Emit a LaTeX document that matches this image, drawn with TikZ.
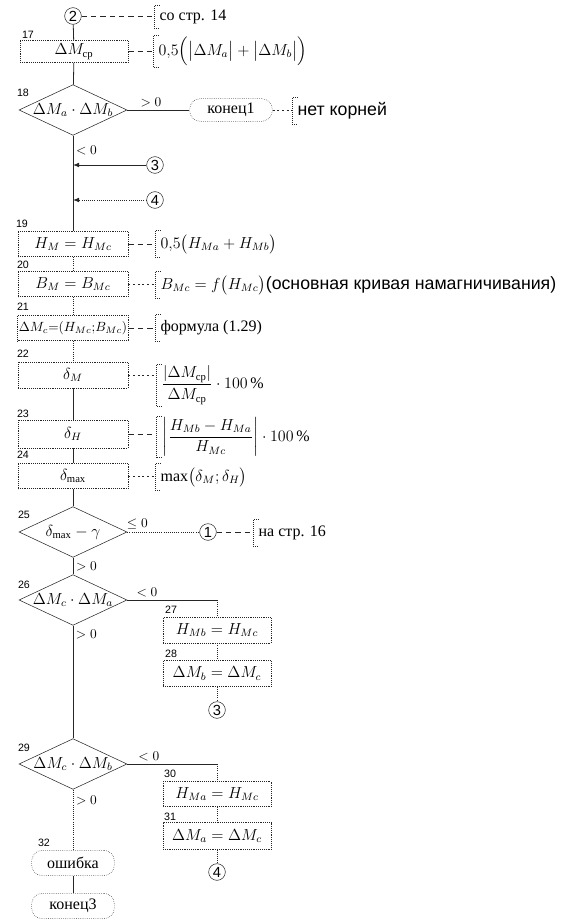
\documentclass[tikz,border=0pt]{standalone}
\usepackage{amsmath}
\usepackage{fontspec}
\setmainfont{Liberation Serif}
\setsansfont{Liberation Sans}
\usetikzlibrary{shapes.geometric,arrows.meta,positioning}

\def\ColL{73}
\def\ColR{217}
\def\LineCol{black!85}
\newcommand\dtext[1]{\makebox[0pt]{#1}}
\newcommand\sanstxt{\sffamily\fontsize{13.3}{15}\selectfont}

\tikzset{
  box/.style={draw=\LineCol, densely dotted, minimum width=82.5pt, minimum height=19pt,
    inner sep=1pt, font=\fontsize{12}{14}\selectfont},
  decision/.style={diamond, draw=\LineCol, aspect=2.1, minimum width=81pt, minimum height=38pt,
    inner sep=0pt, font=\fontsize{12}{14}\selectfont},
  term/.style={draw=\LineCol, densely dotted, rounded corners=8pt, minimum width=62pt,
    minimum height=17pt, inner sep=1pt, font=\rmfamily\fontsize{12}{14}\selectfont},
  conn/.style={circle, draw=\LineCol, minimum size=12.5pt, inner sep=0pt,
    font=\sffamily\fontsize{11}{11}\selectfont},
  note/.style={anchor=west, inner xsep=4pt, inner ysep=1pt, minimum height=19.5pt,
    font=\rmfamily\fontsize{12}{14}\selectfont},
  brk/.style={draw=\LineCol, densely dotted, line width=0.5pt},
  numlbl/.style={font=\sffamily\fontsize{8}{8}\selectfont, inner sep=0pt},
  cond/.style={font=\fontsize{10}{12}\selectfont, inner sep=2pt},
  flow/.style={draw=\LineCol, line width=0.6pt},
  dflow/.style={draw=\LineCol, densely dotted, line width=0.6pt},
  lnk/.style={draw=\LineCol, line width=0.5pt, dash pattern=on 4pt off 3pt},
  dlnk/.style={draw=\LineCol, line width=0.5pt, dash pattern=on 1.5pt off 2pt},
  tip/.style={-{Latex[length=4.5pt,width=3.5pt]}}
}

\begin{document}
\begin{tikzpicture}[x=0.75pt,y=-0.75pt]
  \useasboundingbox (0,0) rectangle (565,924);

  % --- Bloki ---
  \node[conn] (c2) at (\ColL,16) {2};
  \node[box, minimum width=81pt, minimum height=16.5pt] (b17) at (74,51.5) {$\Delta M_{\text{ср}}$};
  \node[decision] (d18) at (\ColL,110) {\dtext{$\Delta M_a\cdot\Delta M_b$}};
  \node[term] (e1) at (231,110) {конец1};
  \node[conn] (c3a) at (155,165) {3};
  \node[conn] (c4a) at (155,200) {4};
  \node[box] (b19) at (\ColL,244) {$H_M = H_{Mc}$};
  \node[box] (b20) at (\ColL,284) {$B_M = B_{Mc}$};
  \node[box, font=\fontsize{10}{12}\selectfont] (b21) at (\ColL,328)
    {$\Delta M_c{=}(H_{Mc};\!B_{Mc})$};
  \node[box, minimum height=19.5pt] (b22) at (\ColL,375) {$\delta_M$};
  \node[box, minimum height=21pt] (b23) at (\ColL,434) {$\delta_H$};
  \node[box] (b24) at (\ColL,476) {$\delta_{\max}$};
  \node[decision] (d25) at (\ColL,532) {\dtext{$\delta_{\max}-\gamma$}};
  \node[conn] (c1) at (208,532) {1};
  \node[decision] (d26) at (\ColL,600) {\dtext{$\Delta M_c\cdot\Delta M_a$}};
  \coordinate (t26) at (\ColR,600);
  \node[box, minimum width=81pt, minimum height=19.5pt] (b27) at (\ColR,630) {$H_{Mb} = H_{Mc}$};
  \node[box, minimum width=81pt, minimum height=19.5pt] (b28) at (\ColR,673.5) {$\Delta M_b = \Delta M_c$};
  \node[conn] (c3b) at (\ColR,710) {3};
  \node[decision] (d29) at (\ColL,764) {\dtext{$\Delta M_c\cdot\Delta M_b$}};
  \coordinate (t29) at (\ColR,764);
  \node[box, minimum width=81pt, minimum height=19pt] (b30) at (\ColR,794) {$H_{Ma} = H_{Mc}$};
  \node[box, minimum width=81pt, minimum height=20pt] (b31) at (\ColR,836) {$\Delta M_a = \Delta M_c$};
  \node[conn] (c4b) at (\ColR,872) {4};
  \node[term, minimum height=19pt] (e2) at (\ColL,863) {ошибка};
  \node[term, minimum height=19pt] (e3) at (\ColL,906) {конец3};

  % --- Nomera blokov ---
  \foreach \x/\y/\n in {28/35/17, 23/93/18, 22/224/19, 23/265/20, 23/307/21, 23/354/22,
    23/414/23, 23/455/24, 24/515/25, 24/585/26, 171/610/27, 171/654/28,
    24/748/29, 170/774/30, 170/817/31, 44/843/32}
  {
    \node[numlbl] (l\n) at (\x,\y) {\n};
  }

  % --- Kommentarii ---
  \node[note, minimum height=16.5pt] (n2) at (154,17) {со стр. 14};
  \node[note, minimum height=17pt] (n17) at (153,51.5)
    {$0{,}5\Bigl(\bigl|\Delta M_a\bigr|+\bigl|\Delta M_b\bigr|\Bigr)$};
  \node[note, font=\sanstxt] (n18) at (292,111) {нет корней};
  \node[note] (n19) at (155,244) {$0{,}5\bigl(H_{Ma}+H_{Mb}\bigr)$};
  \node[note] (n20) at (155,285)
    {$B_{Mc} = f\bigl(H_{Mc}\bigr)${\sanstxt(основная кривая намагничивания)}};
  \node[note] (n21) at (155,328) {формула (1.29)};
  \node[note] (n22) at (156,385)
    {$\dfrac{\left|\Delta M_{\text{ср}}\right|}{\Delta M_{\text{ср}}}\cdot 100\,\%$};
  \node[note, inner xsep=5pt] (n23) at (156,437)
    {$\left|\dfrac{H_{Mb}-H_{Ma}}{H_{Mc}}\right|\cdot 100\,\%$};
  \node[note] (n24) at (155,477) {$\max\bigl(\delta_M;\delta_H\bigr)$};
  \node[note] (n25) at (253,533) {на стр. 16};
  \foreach \n in {n2,n17,n18,n19,n20,n21,n22,n23,n24,n25}
  {
    \draw[brk] ([xshift=4pt]\n.north west) -- (\n.north west)
      -- (\n.south west) -- ([xshift=4pt]\n.south west);
  }
  \foreach \a/\b in {c2/n2, b17/n17, b19/n19, b21/n21, b23/n23, c1/n25}
  {
    \draw[lnk] (\a.east) -- (\a.east -| \b.west);
  }
  \foreach \a/\b in {e1/n18, b20/n20, b22/n22, b24/n24}
  {
    \draw[dlnk] (\a.east) -- (\a.east -| \b.west);
  }

  % --- Linii potoka ---
  \foreach \a/\b in {c2/b17, b17/d18, b22/b23, b23/b24, b24/d25, d26/d29, e2/e3}
  {
    \draw[flow] (\a) -- (\b);
  }
  \foreach \a/\b in {b19/b20, b20/b21, b21/b22, t26/b27, b27/b28, b28/c3b,
    t29/b30, b30/b31, b31/c4b}
  {
    \draw[dflow] (\a) -- (\b);
  }
  \draw[flow] (d18) -- node[cond, pos=0.38, above] {$>0$} (e1);
  \draw[flow] (d18) -- node[cond, pos=0.16, right] {$<0$} (b19);
  \draw[flow, tip] (c3a) -- (c3a -| d18.south);
  \draw[dflow, tip] (c4a) -- (c4a -| d18.south);
  \draw[dflow] (d25) -- node[cond, pos=0.14, above] {$\le 0$} (c1);
  \draw[flow] (d25) -- node[cond, pos=0.5, right] {$>0$} (d26);
  \draw[flow] (d26.east) -- node[cond, pos=0.22, above] {$<0$} (t26);
  \path (d26.south) -- node[cond, pos=0.08, right] {$>0$} (d29.north);
  \draw[flow] (d29.east) -- node[cond, pos=0.24, above] {$<0$} (t29);
  \draw[dflow] (d29) -- node[cond, pos=0.18, right] {$>0$} (e2);
\end{tikzpicture}
\end{document}
